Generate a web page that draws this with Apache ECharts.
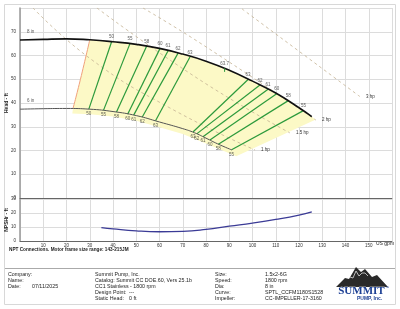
<!DOCTYPE html>
<html><head><meta charset="utf-8">
<script src="https://cdn.jsdelivr.net/npm/echarts@6/dist/echarts.min.js"></script>
<style>html,body{margin:0;padding:0;background:#fff}#c{width:400px;height:309px}</style>
</head><body><div id="c"></div>
<script>
// ---- data (US gpm, ft) ----
const topCurve = [[0,66.5],[10,66.8],[20,67],[30,66.6],[40,65.8],[50,64.7],[60,63],[70,60.6],[80,57.6],[90,53.8],[100,49.2],[110,44.2],[120,38],[125.5,34.3]];
const bottomCurve = [[0,37.4],[10,37.6],[20,37.7],[30,37.4],[40,36.4],[50,34.7],[60,32],[70,29.2],[75,27.5],[80,25.2],[85,22.8],[91.2,20.2]];
const topLabel = '8 in';
const bottomLabel = '6 in';
const minFlowLine = [[30,66.6],[26,50],[22.8,37.7]];
const regionPolygon = [[30,66.6],[40,65.8],[50,64.7],[60,63],[70,60.6],[80,57.6],[90,53.8],[100,49.2],[110,44.2],[120,38],[125.5,34.3],[127,33],[93,17.6],[90,18.8],[80,23],[70,27],[60,29.8],[50,32.5],[40,34.3],[30,35.3],[22.5,35.6],[22.8,37.7],[26,50]];
const effNames = ['50','55','58','60','61','62','63','63','62','61','60','58','55'];
const effTop = [[39.4,65.8],[47.3,65.0],[54.5,64.0],[60.2,62.9],[63.7,62.0],[68.0,61.0],[73.1,59.4],[98.1,49.9],[103.2,47.6],[106.7,45.8],[110.4,43.9],[115.4,41.0],[121.9,36.8]];
const effBottom = [[29.6,37.4],[35.9,36.9],[41.5,36.2],[46.3,35.3],[48.9,34.9],[52.6,34.1],[58.3,32.5],[74.4,27.8],[76.0,27.0],[78.7,25.8],[81.7,24.4],[85.3,22.6],[91.0,20.3]];
const bep = [88, 54.6];
const bepLabel = '63.7';
const powerNames = ['1 hp','1.5 hp','2 hp','3 hp'];
const powerLines = [
  [[5.6,80],[31,58.1],[64.5,37.9],[101.1,20.2]],
  [[33.1,80],[77.4,49.7],[116.1,27.4]],
  [[52.9,80],[77.4,65.3],[127.3,32.8]],
  [[95.5,79.6],[120.4,61.5],[146.2,42.7]]
];
const npshCurve = [[35,9.5],[40,8.6],[50,7.2],[60,6.6],[70,6.9],[80,8.3],[90,10.6],[100,12.8],[110,15.4],[120,18.5],[125.5,20.8]];
const flowTicks = [0,160,10];
const headTicks = [0,80,10];
const npshTicks = [0,30,10];

const F = 'Liberation Sans, Arial, sans-serif';
const chart = echarts.init(document.getElementById('c'), null, {renderer:'canvas'});
const gridLine = {lineStyle:{color:'#dcdcdc', width:1}};
const series = [];
series.push({type:'custom', xAxisIndex:0, yAxisIndex:0, z:1, silent:true, data:[[0,0]],
  renderItem:(p, api)=>({type:'polygon', shape:{points: regionPolygon.map(pt=>api.coord(pt)), smooth:0}, style:{fill:'#fcf9c6'}})});
powerLines.forEach((pl,i)=>{
  series.push({type:'line', xAxisIndex:0, yAxisIndex:0, z:2, data:pl, smooth:true, symbol:'none',
    lineStyle:{color:'#c4b393', width:0.8, type:[3,3]},
    endLabel:{show:true, formatter:powerNames[i], fontSize:4.5, fontFamily:F, color:'#333', distance:6}});
});
series.push({type:'line', xAxisIndex:0, yAxisIndex:0, z:3, data:minFlowLine, smooth:true, symbol:'none', lineStyle:{color:'#f0a07c', width:1}});
effTop.forEach((t,i)=>{
  series.push({type:'line', xAxisIndex:0, yAxisIndex:0, z:4, data:[t, effBottom[i]], symbol:'none', lineStyle:{color:'#2c9a3c', width:1.2}});
});
series.push({type:'line', xAxisIndex:0, yAxisIndex:0, z:5, data:bottomCurve, smooth:true, symbol:'none', lineStyle:{color:'#555', width:1}});
series.push({type:'line', xAxisIndex:0, yAxisIndex:0, z:5, data:topCurve, smooth:true, symbol:'none', lineStyle:{color:'#111', width:1.6}});
series.push({type:'line', xAxisIndex:0, yAxisIndex:0, z:5, data:[bep,[bep[0],bep[1]-1.5]], symbol:'none', lineStyle:{color:'#2c9a3c', width:1}});
const lblStyle = {fontSize:4.5, fontFamily:F, color:'#333'};
series.push({type:'scatter', xAxisIndex:0, yAxisIndex:0, z:6, symbolSize:0,
  data: effTop.map((t,i)=>[t[0],t[1],effNames[i]]).concat([[bep[0],bep[1],bepLabel]]),
  label:{show:true, position:'top', distance:2, formatter:p=>p.value[2], ...lblStyle}});
series.push({type:'scatter', xAxisIndex:0, yAxisIndex:0, z:6, symbolSize:0,
  data: effBottom.map((t,i)=>[t[0],t[1],effNames[i]]),
  label:{show:true, position:'bottom', distance:2, formatter:p=>p.value[2], ...lblStyle}});
series.push({type:'scatter', xAxisIndex:0, yAxisIndex:0, z:6, symbolSize:0,
  data: [[topCurve[0][0],topCurve[0][1],topLabel],[bottomCurve[0][0],bottomCurve[0][1],bottomLabel]],
  label:{show:true, position:'insideBottomLeft', offset:[2,-1], formatter:p=>p.value[2], ...lblStyle}});
series.push({type:'line', xAxisIndex:1, yAxisIndex:1, z:5, data:npshCurve, smooth:true, symbol:'none', lineStyle:{color:'#3b3b96', width:1.3}});

const T = (x,y,text,opt={}) => ({type:'text', left:x, top:y, style:Object.assign({text, fontSize:5.3, fontFamily:F, fill:'#222'}, opt)});
const graphics = [
  {type:'rect', shape:{x:4.5,y:4.5,width:391,height:300}, style:{fill:'none', stroke:'#d8d8d8', lineWidth:1}, z:-1},
  {type:'line', shape:{x1:5,y1:268.5,x2:395,y2:268.5}, style:{stroke:'#aaa', lineWidth:1}},
  {type:'text', x:7, y:103, rotation:Math.PI/2, style:{text:'Head - ft', fontSize:5, fontWeight:'bold', fontFamily:F, fill:'#222', align:'center', verticalAlign:'middle'}},
  {type:'text', x:7, y:220, rotation:Math.PI/2, style:{text:'NPSHr - ft', fontSize:5, fontWeight:'bold', fontFamily:F, fill:'#222', align:'center', verticalAlign:'middle'}},
  T(376,241.5,'US gpm',{fontSize:5}),
  T(9,247.5,'NPT Connections. Motor frame size range: 143-215JM',{fontSize:4.7, fontWeight:'bold'}),
  T(8,272,'Company:'), T(8,278,'Name:'), T(8,284,'Date:'), T(32,284,'07/11/2025'),
  T(95,272,'Summit Pump, Inc.'), T(95,278,'Catalog: Summit CC DOE.60, Vers 25.1b'), T(95,284,'CC1 Stainless - 1800 rpm'),
  T(95,290,'Design Point:'), T(129,290,'---'), T(95,296,'Static Head:'), T(129,296,'0 ft'),
  T(215,272,'Size:'), T(215,278,'Speed:'), T(215,284,'Dia:'), T(215,290,'Curve:'), T(215,296,'Impeller:'),
  T(265,272,'1.5x2-6G'), T(265,278,'1800 rpm'), T(265,284,'8 in'), T(265,290,'SPTL_CCFM1180S1528'), T(265,296,'CC-IMPELLER-17-3160'),
  {type:'polygon', shape:{points:[[336,287],[345,278],[349,279],[356,267],[361,272],[365,269],[372,277],[377,275],[388,287]]}, style:{fill:'#2a2a2a'}},
  {type:'polyline', shape:{points:[[350,277],[353,278],[356,271],[359,276],[362,273],[365,273],[368,276]]}, style:{stroke:'#ddd', fill:'none', lineWidth:0.8}},
  {type:'text', left:338, top:285, style:{text:'SUMMIT', fontSize:11, fontWeight:'bold', fontFamily:'Liberation Serif, Times New Roman, serif', fill:'#1c3f94', stroke:'#fff', lineWidth:0.5}},
  {type:'text', left:385, top:286, style:{text:'™', fontSize:4, fontFamily:F, fill:'#1c3f94'}},
  {type:'text', left:357, top:296.5, style:{text:'PUMP, Inc.', fontSize:5, fontWeight:'bold', fontFamily:F, fill:'#1c3f94'}}
];

chart.setOption({
  animation:false,
  grid:[{left:20, top:8, width:372, height:190}, {left:20, top:199, width:372, height:42}],
  xAxis:[
    {gridIndex:0, type:'value', min:flowTicks[0], max:flowTicks[1], interval:flowTicks[2], axisLabel:{show:false}, axisTick:{show:false},
      axisLine:{show:true, lineStyle:{color:'#666', width:1}}, splitLine:gridLine},
    {gridIndex:1, type:'value', min:flowTicks[0], max:flowTicks[1], interval:flowTicks[2], axisTick:{show:false},
      axisLabel:{fontSize:4.5, fontFamily:F, color:'#333', margin:2, formatter:v=>(v===0||v===160)?'':String(v)},
      axisLine:{show:true, lineStyle:{color:'#666', width:1}}, splitLine:gridLine}
  ],
  yAxis:[
    {gridIndex:0, type:'value', min:headTicks[0], max:headTicks[1], interval:headTicks[2], axisTick:{show:false},
      axisLabel:{fontSize:4.5, fontFamily:F, color:'#333', margin:4, formatter:v=>v===80?'':String(v)},
      axisLine:{show:true, lineStyle:{color:'#999', width:1.5}}, splitLine:gridLine},
    {gridIndex:1, type:'value', min:npshTicks[0], max:npshTicks[1], interval:npshTicks[2], axisTick:{show:false},
      axisLabel:{fontSize:4.5, fontFamily:F, color:'#333', margin:4},
      axisLine:{show:true, lineStyle:{color:'#999', width:1.5}}, splitLine:gridLine}
  ],
  series,
  graphic: graphics
});
</script></body></html>
